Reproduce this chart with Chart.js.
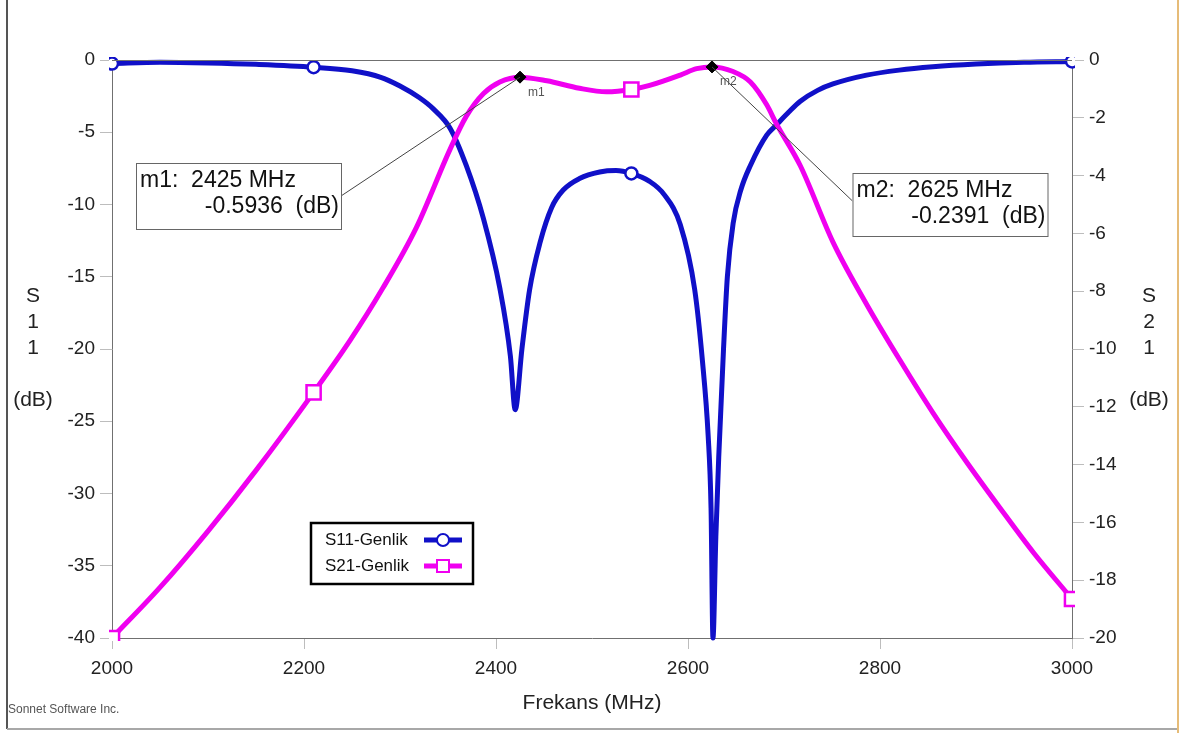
<!DOCTYPE html>
<html><head><meta charset="utf-8">
<script src="https://cdn.jsdelivr.net/npm/chart.js@4.4.1/dist/chart.umd.min.js"></script>
<style>html,body{margin:0;padding:0;background:#fff;overflow:hidden}#wrap{width:1187px;height:733px;position:relative}</style>
</head><body><div id="wrap"><canvas id="c" width="1187" height="733"></canvas></div>
<script>
// ---- data ----
const freqS11 = [2000,2050,2100,2150,2210,2250,2280,2300,2320,2335,2352,2369,2387,2404,2415,2420,2427,2435,2446,2458,2470,2487,2508,2525,2541,2560,2575,2592,2607,2615,2621,2624,2626,2629,2632,2637,2641,2647,2655,2665,2682,2692,2705,2717,2735,2751,2786,2820,2855,2900,2950,3000];
const s11 = [-0.25,-0.15,-0.2,-0.3,-0.5,-0.75,-1.2,-1.8,-2.6,-3.4,-4.7,-7.3,-11.0,-15.8,-20.5,-24.2,-20,-15.9,-12.6,-10.2,-9.0,-8.2,-7.75,-7.65,-7.85,-8.4,-9.3,-11.4,-15.9,-20.8,-26,-31,-40,-33,-27.5,-20,-15,-11.3,-9.0,-7.3,-5.2,-4.5,-3.6,-2.85,-2.1,-1.66,-1.05,-0.7,-0.47,-0.28,-0.15,-0.1];
const freqS21 = [2000,2050,2100,2150,2210,2248,2282,2317,2352,2369,2387,2404,2425,2453,2487,2515,2541,2560,2592,2609,2625,2647,2665,2682,2692,2717,2751,2786,2821,2855,2890,2925,2960,3000];
const s21 = [-20,-18.25,-16.3,-14.2,-11.5,-9.7,-7.9,-5.8,-3.1,-1.95,-1.16,-0.76,-0.5936,-0.72,-0.98,-1.1,-1.02,-0.88,-0.52,-0.3,-0.2391,-0.4,-0.76,-1.55,-2.2,-3.66,-6.3,-8.45,-10.4,-12.2,-13.9,-15.5,-17.05,-18.65];
const seriesNames = ['S11-Genlik','S21-Genlik'];
const s11MarkerFreqs = [2000,2210,2541,3000];
const s21MarkerFreqs = [2000,2210,2541,3000];
const markerNames = ['m1','m2'];
const markerFreqs = [2425,2625];
const markerValues = [-0.5936,-0.2391];
const xTicks = [2000,2200,2400,2600,2800,3000];
const leftTicks = [0,-5,-10,-15,-20,-25,-30,-35,-40];
const rightTicks = [0,-2,-4,-6,-8,-10,-12,-14,-16,-18,-20];
const xTitle = 'Frekans (MHz)';
const leftTitle = ['S','1','1','','(dB)'];
const rightTitle = ['S','2','1','','(dB)'];
const footer = 'Sonnet Software Inc.';

// ---- styles ----
const FONT = "'Liberation Sans', Arial, sans-serif";
const BLUE = '#1010c8', MAG = '#f000f0', AX = '#707070', TICK = '#bdbdbd', TXT = '#222';
const boxes = [
  {x:136, y:163, w:205, h:66, lx:341, ly:196},
  {x:852.5, y:173, w:195, h:63, lx:852.5, ly:201}
];

function series(label, fx, vals, color, axis, style, mf, r, order){
  return {label, data: fx.map((f,i)=>({x:f,y:vals[i]})), yAxisID: axis,
    borderColor: color, backgroundColor:'#fff', borderWidth:5, cubicInterpolationMode:'monotone',
    pointStyle: style, pointRadius: c => (c.raw && mf.includes(c.raw.x)) ? r : 0,
    pointBorderWidth:2.5, pointBorderColor: color, pointBackgroundColor:'#fff', pointHoverRadius:0,
    order, clip: 3};
}

const decor = {
  id:'decor',
  beforeDraw(chart){
    const c = chart.ctx;
    c.save();
    c.fillStyle='#fff'; c.fillRect(0,0,chart.width,chart.height);
    c.strokeStyle='#555'; c.lineWidth=2; c.beginPath(); c.moveTo(7,0); c.lineTo(7,729); c.stroke();
    c.strokeStyle='#a8a8a8'; c.beginPath(); c.moveTo(7,729); c.lineTo(1178,729); c.stroke();
    c.strokeStyle='#e6bc78'; c.beginPath(); c.moveTo(1178,0); c.lineTo(1178,733); c.stroke();
    c.fillStyle='#555'; c.font='12px '+FONT; c.textAlign='left'; c.textBaseline='middle';
    c.fillText(footer, 8, 710);
    c.fillStyle=TXT; c.font='21px '+FONT; c.textAlign='center';
    leftTitle.forEach((t,i)=>{ if(t) c.fillText(t, 33, 296 + i*26); });
    rightTitle.forEach((t,i)=>{ if(t) c.fillText(t, 1149, 296 + i*26); });
    c.restore();
  },
  afterDatasetsDraw(chart){
    const c = chart.ctx, a = chart.chartArea, xs = chart.scales.x, ys = chart.scales.y2;
    c.save();
    c.strokeStyle=AX; c.lineWidth=1; c.beginPath(); c.moveTo(a.left, a.top+0.5); c.lineTo(a.right, a.top+0.5); c.stroke();
    markerNames.forEach((nm,i)=>{
      const px = xs.getPixelForValue(markerFreqs[i]), py = ys.getPixelForValue(markerValues[i]);
      const b = boxes[i];
      c.strokeStyle='#444'; c.lineWidth=1;
      c.beginPath(); c.moveTo(px,py); c.lineTo(b.lx,b.ly); c.stroke();
      c.fillStyle='#555'; c.font='12px '+FONT; c.textAlign='left'; c.textBaseline='middle';
      c.fillText(nm, px+8, py+(i===0?16:15));
      c.fillStyle='#fff'; c.fillRect(b.x,b.y,b.w,b.h);
      c.strokeStyle='#666'; c.lineWidth=1; c.strokeRect(b.x+0.5,b.y+0.5,b.w,b.h);
      c.fillStyle='#111'; c.font='23px '+FONT;
      c.textAlign='left';
      c.fillText(nm+':  '+markerFreqs[i]+' MHz', b.x+4, b.y+18);
      c.textAlign='right';
      c.fillText(markerValues[i].toFixed(4)+'  (dB)', b.x+b.w-2, b.y+44);
    });
    c.fillStyle='#fff'; c.fillRect(311,523,162,61);
    c.strokeStyle='#000'; c.lineWidth=2.5; c.strokeRect(311,523,162,61);
    const rows = [{y:540,col:BLUE,shape:'circle'},{y:566,col:MAG,shape:'square'}];
    rows.forEach((r,i)=>{
      c.fillStyle='#111'; c.font='17px '+FONT; c.textAlign='left'; c.textBaseline='middle';
      c.fillText(seriesNames[i], 325, r.y);
      c.strokeStyle=r.col; c.lineWidth=5; c.beginPath(); c.moveTo(424,r.y); c.lineTo(462,r.y); c.stroke();
      c.lineWidth=2; c.fillStyle='#fff';
      if(r.shape==='circle'){ c.beginPath(); c.arc(443,r.y,6,0,Math.PI*2); c.fill(); c.stroke(); }
      else { c.fillRect(437,r.y-6,12,12); c.strokeRect(437,r.y-6,12,12); }
    });
    c.restore();
  }
};

const tickFont = {family: FONT, size: 19};
const plain = v => String(v);
new Chart(document.getElementById('c'), {
  type:'line',
  data:{ datasets:[
    {label:'markers', data: markerFreqs.map((f,i)=>({x:f,y:markerValues[i]})), yAxisID:'y2', showLine:false,
     pointStyle:'rectRot', pointRadius:6, pointBackgroundColor:'#000', pointBorderColor:'#000', pointBorderWidth:1, order:-1, clip:false},
    series(seriesNames[1], freqS21, s21, MAG, 'y2', 'rect', s21MarkerFreqs, 10, 0),
    series(seriesNames[0], freqS11, s11, BLUE, 'y', 'circle', s11MarkerFreqs, 6, 1)
  ]},
  options:{
    responsive:false, animation:false, devicePixelRatio:1,
    layout:{padding:{top:60,left:0,right:0,bottom:0}},
    plugins:{legend:{display:false}, tooltip:{enabled:false}},
    events:[],
    scales:{
      x:{type:'linear', position:'bottom', min:2000, max:3000,
        afterBuildTicks: s => { s.ticks = xTicks.map(v=>({value:v})); },
        afterFit: s => { s.height = 95; },
        ticks:{font:tickFont, color:TXT, padding:8, maxRotation:0, callback: plain},
        grid:{drawOnChartArea:false, tickLength:11, color:TICK},
        border:{display:true, color:AX, width:1},
        title:{display:true, text:xTitle, font:{family:FONT,size:21}, color:TXT, padding:{top:0,bottom:17}}
      },
      y:{position:'left', min:-40, max:0,
        afterBuildTicks: s => { s.ticks = leftTicks.map(v=>({value:v})); },
        afterFit: s => { s.width = 112; },
        ticks:{font:tickFont, color:TXT, padding:5, callback: plain},
        grid:{drawOnChartArea:false, tickLength:12, color:TICK},
        border:{display:true, color:AX, width:1}
      },
      y2:{position:'right', min:-20, max:0,
        afterBuildTicks: s => { s.ticks = rightTicks.map(v=>({value:v})); },
        afterFit: s => { s.width = 115; },
        ticks:{font:tickFont, color:TXT, padding:5, callback: plain},
        grid:{drawOnChartArea:false, tickLength:12, color:TICK},
        border:{display:true, color:AX, width:1}
      }
    }
  },
  plugins:[decor]
});
</script></body></html>
